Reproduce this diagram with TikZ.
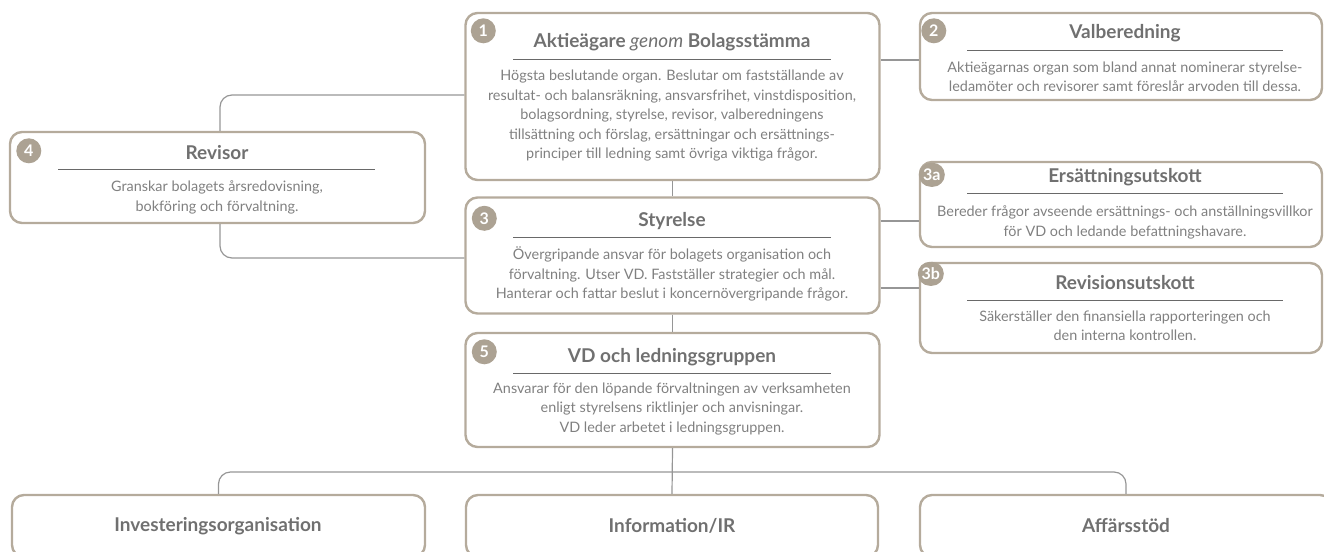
\documentclass[tikz,border=0pt]{standalone}
\usepackage{fontspec}
\setmainfont{Lato}
\definecolor{tan}{RGB}{181,171,156}
\definecolor{badgec}{RGB}{172,162,147}
\definecolor{titlec}{RGB}{112,112,112}
\definecolor{bodyc}{RGB}{128,128,128}
\definecolor{rulec}{RGB}{105,105,105}
\definecolor{connc}{RGB}{150,150,150}
\tikzset{
  orgbox/.style={draw=tan, line width=2.4pt, rounded corners=12pt, rectangle, inner sep=0pt},
  ttl/.style={text=titlec, font=\fontsize{19}{22}\selectfont\bfseries, inner sep=0pt},
  bdy/.style={text=bodyc, font=\fontsize{14.4}{19.5}\selectfont, align=center, inner sep=0pt},
  hrule/.style={draw=rulec, line width=0.8pt},
  conn/.style={draw=connc, line width=1.2pt},
  badge/.style={circle, fill=badgec, text=white, font=\fontsize{16}{16}\selectfont\bfseries, inner sep=0pt, minimum size=25pt},
  pill/.style={rectangle, rounded corners=12pt, fill=badgec, text=white, font=\fontsize{16}{16}\selectfont\bfseries, inner xsep=2pt, inner ysep=0pt, minimum height=24pt, minimum width=26pt},
}
\begin{document}
\begin{tikzpicture}[x=1pt,y=-1pt]
\useasboundingbox (0,0) rectangle (1324,551);
\clip (0,0) rectangle (1324,551);
% boxes
\node[orgbox, minimum width=414pt, minimum height=167pt] (b1) at (672.5,96.5) {};
\node[orgbox, minimum width=402pt, minimum height=87pt] (b2) at (1121,56.5) {};
\node[orgbox, minimum width=415pt, minimum height=91pt] (b4) at (217.5,177.5) {};
\node[orgbox, minimum width=414pt, minimum height=116pt] (b3) at (672.5,255.5) {};
\node[orgbox, minimum width=402pt, minimum height=85pt] (b3a) at (1121,204.5) {};
\node[orgbox, minimum width=402pt, minimum height=90pt] (b3b) at (1121,308) {};
\node[orgbox, minimum width=414pt, minimum height=114pt] (b5) at (672.5,390) {};
\node[orgbox, minimum width=413pt, minimum height=62pt] (c1) at (218.5,526) {};
\node[orgbox, minimum width=412pt, minimum height=62pt] (c2) at (672,526) {};
\node[orgbox, minimum width=412pt, minimum height=62pt] (c3) at (1126,526) {};
% connectors
\draw[conn] (b1.east |- 0,60) -- (b2.west |- 0,60);
\draw[conn] (b1.south) -- (b3.north);
\draw[conn, rounded corners=12pt] (b4.north -| 220,0) |- (b1.west |- 0,95);
\draw[conn, rounded corners=12pt] (b4.south -| 220,0) |- (b3.west |- 0,258);
\draw[conn] (b3.east |- 0,221) -- (b3a.west |- 0,221);
\draw[conn] (b3.east |- 0,288) -- (b3b.west |- 0,288);
\draw[conn] (b3.south) -- (b5.north);
\draw[conn] (b5.south) -- (c2.north);
\coordinate (busl) at (c1.north |- 0,472);
\coordinate (busr) at (c3.north |- 0,472);
\draw[conn, rounded corners=12pt] (c1.north) -- (busl) -- (busr) -- (c3.north);
% box 1
\node[badge] (n1) at ([shift={(19,19)}]b1.north west) {1};
\node[ttl] (t1) at (672,42) {Aktieägare \textmd{\textit{genom}} Bolagsstämma};
\draw[hrule] (513,59) -- (831,59);
\node[bdy] (d1) at (672,116) {Högsta beslutande organ. Beslutar om fastställande av\\resultat- och balansräkning, ansvarsfrihet, vinstdisposition,\\bolagsordning, styrelse, revisor, valberedningens\\tillsättning och förslag, ersättningar och ersättnings-\\principer till ledning samt övriga viktiga frågor.};
% box 2
\node[badge] (n2) at ([shift={(15,19)}]b2.north west) {2};
\node[ttl] (t2) at (1125,33) {Valberedning};
\draw[hrule] (967,50) -- (1283,50);
\node[bdy] (d2) at (1125,77) {Aktieägarnas organ som bland annat nominerar styrelse-\\ledamöter och revisorer samt föreslår arvoden till dessa.};
% box 4
\node[badge] (n4) at ([shift={(20,20)}]b4.north west) {4};
\node[ttl] (t4) at (217,153) {Revisor};
\draw[hrule] (58,169) -- (375,169);
\node[bdy] (d4) at (217,197.5) {Granskar bolagets årsredovisning,\\bokföring och förvaltning.};
% box 3
\node[badge] (n3) at ([shift={(20,22)}]b3.north west) {3};
\node[ttl] (t3) at (672,221) {Styrelse};
\draw[hrule] (513,237) -- (831,237);
\node[bdy] (d3) at (672,274) {Övergripande ansvar för bolagets organisation och\\förvaltning. Utser VD. Fastställer strategier och mål.\\Hanterar och fattar beslut i koncernövergripande frågor.};
% box 3a
\node[pill] (n3a) at ([shift={(13,14)}]b3a.north west) {3a};
\node[ttl] (t3a) at (1125,177) {Ersättningsutskott};
\draw[hrule] (967,193) -- (1283,193);
\node[bdy] (d3a) at (1125,222.5) {Bereder frågor avseende ersättnings- och anställningsvillkor\\för VD och ledande befattningshavare.};
% box 3b
\node[pill] (n3b) at ([shift={(12,12)}]b3b.north west) {3b};
\node[ttl] (t3b) at (1125,283) {Revisionsutskott};
\draw[hrule] (967,300) -- (1283,300);
\node[bdy] (d3b) at (1125,326) {Säkerställer den finansiella rapporteringen och\\den interna kontrollen.};
% box 5
\node[badge] (n5) at ([shift={(20,20)}]b5.north west) {5};
\node[ttl] (t5) at (672,357) {VD och ledningsgruppen};
\draw[hrule] (513,373) -- (831,373);
\node[bdy] (d5) at (672,409) {Ansvarar för den löpande förvaltningen av verksamheten\\enligt styrelsens riktlinjer och anvisningar.\\VD leder arbetet i ledningsgruppen.};
% bottom boxes
\node[ttl] (e1) at (218,526) {Investeringsorganisation};
\node[ttl] (e2) at (672,526) {Information/IR};
\node[ttl] (e3) at (1126,526) {Affärsstöd};
\end{tikzpicture}
\end{document}
